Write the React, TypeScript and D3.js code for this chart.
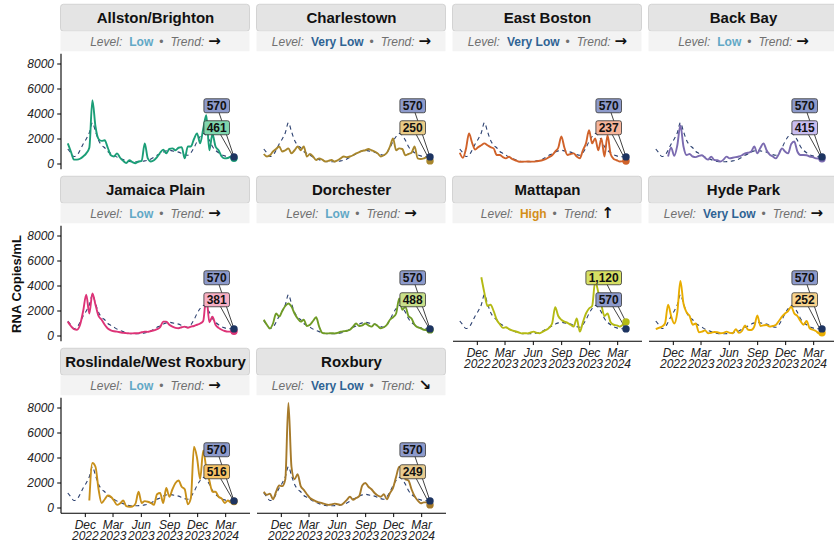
import React from "react";
import * as d3 from "d3";

// sampling grid: every 10 days from Oct 5 2022
const firstDate = new Date(2022, 9, 5);
const dates = d3.range(55).map((i) => d3.timeDay.offset(firstDate, i * 10));
const xDomain = [new Date(2022, 8, 13), new Date(2024, 4, 19)];
const tickDates = [
  new Date(2022, 11, 1),
  new Date(2023, 2, 1),
  new Date(2023, 5, 1),
  new Date(2023, 8, 1),
  new Date(2023, 11, 1),
  new Date(2024, 2, 1),
];
const yTicks = [0, 2000, 4000, 6000, 8000];

const neighborhoods = [
  "Allston/Brighton", "Charlestown", "East Boston", "Back Bay",
  "Jamaica Plain", "Dorchester", "Mattapan", "Hyde Park",
  "Roslindale/West Roxbury", "Roxbury",
];
const levels = ["Low", "Very Low", "Very Low", "Low", "Low", "Low", "High", "Very Low", "Low", "Very Low"];
const trends = ["→", "→", "→", "→", "→", "→", "↑", "→", "→", "↘"];
const lineColors = ["#1B9E77", "#A8862C", "#D0622A", "#7B6BB0", "#DD3377", "#6F9B26", "#B4BA14", "#E8AC00", "#C8901A", "#A67A2A"];
const labelFills = ["#7FD6AE", "#E9CB86", "#F6B49A", "#C9BDF0", "#F8AFC4", "#C9E08A", "#D6DF63", "#F8D38C", "#F7C467", "#E8CB8F"];
const levelColors: Record<string, string> = { "Very Low": "#2F6394", Low: "#62A8C6", High: "#D48E1A" };

const boston = [1200, 900, 600, 700, 1100, 1600, 2000, 2500, 3300, 2600, 1900, 1500, 1300, 1000, 850, 700, 550, 450, 350, 250, 200, 180, 180, 190, 200, 250, 300, 400, 550, 700, 800, 950, 1050, 1100, 1050, 1000, 950, 850, 750, 700, 900, 1300, 1800, 2200, 2450, 2300, 1900, 1400, 1100, 900, 750, 650, 600, 580, 570];

const allston = [1650, 1000, 350, 350, 420, 600, 850, 1300, 5100, 3000, 2000, 1850, 1900, 1300, 700, 600, 850, 500, 250, 80, 300, 150, 60, 200, 250, 1650, 450, 200, 300, 550, 900, 1150, 850, 1200, 1250, 1100, 1300, 1350, 450, 1400, 1400, 2000, 2450, 1650, 2800, 3900, 1100, 2400, 1400, 1100, 600, 450, 480, 580, 461];
const charlestown = [800, 600, 700, 1000, 1200, 1400, 1000, 1100, 1250, 850, 1100, 1400, 1100, 1400, 600, 800, 600, 320, 450, 350, 200, 250, 320, 200, 300, 450, 600, 550, 600, 700, 850, 950, 1050, 1100, 1200, 1100, 1000, 850, 600, 700, 900, 1400, 2050, 1100, 1250, 1200, 700, 800, 900, 1400, 450, 400, 450, 550, 250];
const eastBoston = [900, 500, 1200, 2450, 1700, 1150, 1350, 1500, 1650, 1500, 1350, 1250, 720, 720, 550, 450, 580, 400, 300, 200, 180, 190, 200, 190, 190, 220, 260, 320, 400, 550, 700, 1000, 1300, 2200, 1300, 720, 800, 850, 590, 450, 1100, 1650, 2700, 1650, 2050, 1100, 2050, 600, 2300, 800, 400, 300, 200, 220, 237];
const backBay = [null, null, null, null, 600, 1300, 650, 1500, 3100, 1400, 720, 800, 600, 550, 650, 700, 500, 350, 590, 320, 300, 200, 350, 590, 450, 500, 550, 600, 700, 850, 900, 1000, 1400, 850, 1300, 1650, 1100, 750, 600, 450, 800, 1250, 1000, 850, 1600, 1800, 1000, 720, 720, 700, 600, 550, 450, 430, 415];
const jamaicaPlain = [1150, 800, 550, 500, 900, 2000, 3300, 1800, 3400, 2500, 1600, 1300, 900, 600, 450, 380, 350, 300, 250, 230, 210, 210, 220, 230, 300, 350, 330, 400, 450, 550, 700, 1150, 1150, 900, 750, 650, 620, 700, 750, 650, 750, 800, 900, 1000, 1200, 3200, 1100, 1550, 900, 650, 500, 400, 350, 350, 381];
const dorchester = [1300, 900, 600, 1000, 1800, 1550, 2000, 2400, 2600, 2350, 1800, 1400, 1150, 1300, 800, 900, 1200, 1500, 750, 250, 210, 210, 220, 210, 250, 350, 380, 420, 500, 750, 1000, 800, 850, 1000, 850, 750, 950, 800, 620, 700, 900, 1300, 1500, 1800, 3000, 2100, 2350, 1600, 1400, 900, 700, 620, 500, 480, 488];
const mattapan = [null, null, null, null, null, null, null, 4700, 3450, 2400, 2500, 2000, 1300, 950, 650, 700, 550, 450, 380, 300, 210, 220, 210, 280, 350, 250, 220, 350, 480, 650, 1000, 2300, 1600, 1300, 1150, 1050, 900, 750, 1400, 350, 1100, 1800, 2200, 2400, 4400, 3500, 2500, 1600, 1800, 1100, 900, 850, 750, 900, 1120];
const hydePark = [550, 650, 750, 1000, 2500, 1600, 1000, 1900, 4400, 2600, 1900, 1600, 900, 1000, 300, 350, 450, 220, 250, 320, 300, 220, 250, 350, 250, 220, 550, 250, 400, 850, 500, 480, 750, 1650, 800, 850, 880, 750, 800, 880, 1200, 1550, 1800, 2000, 2350, 1800, 1600, 1200, 900, 1200, 620, 500, 400, 220, 252];
const roslindale = [null, null, null, null, null, null, null, 600, 3600, 3300, 1500, 400, 700, 1000, 900, 600, 250, 370, 600, 150, 100, 120, 350, 1300, 400, 550, 500, 400, 250, 1100, 1200, 400, 1600, 900, 1500, 2000, 2200, 1700, 1500, 300, 800, 4900, 4000, 2300, 4600, 3200, 2200, 1300, 1300, 900, 750, 400, 600, 450, 516];
const roxbury = [1300, 1050, 1150, 700, 1300, 1800, 1750, 2300, 8400, 3300, 2300, 2700, 1750, 1450, 1100, 800, 650, 520, 450, 380, 300, 250, 280, 350, 300, 250, 400, 650, 900, 650, 800, 950, 1800, 2000, 1700, 1500, 1200, 1000, 900, 1100, 700, 1200, 1600, 2500, 3300, 3100, 2300, 2200, 1500, 950, 600, 380, 450, 450, 249];

const series: (number | null)[][] = [allston, charlestown, eastBoston, backBay, jamaicaPlain, dorchester, mattapan, hydePark, roslindale, roxbury];

const FONT = "'Liberation Sans', Arial, Helvetica, sans-serif";
const PW = 189;
const PH = 115.5;
const colLeft = [61, 257, 453, 649];
const rowTop = [53.75, 225.75, 397.75];

const fmt = d3.format(",");
const labelWidth = (s: string) => {
  let w = 0;
  for (const ch of s) w += ch === "," ? 3.3 : 6.7;
  return w + 5.5;
};

const App = () => {
  const yMax = d3.max(series.flat().concat(boston), (d) => d as number) as number;
  const x = d3.scaleTime().domain(xDomain).range([0, PW]);
  const y = d3.scaleLinear().domain([-0.05 * yMax, 1.05 * yMax]).range([PH, 0]);
  const line = d3
    .line<number | null>()
    .defined((d) => d != null)
    .x((d, i) => x(dates[i]))
    .y((d) => y(d as number))
    .curve(d3.curveMonotoneX);

  const last = dates.length - 1;
  const endX = x(dates[last]);

  return (
    <svg width={834} height={542} style={{ position: "absolute", left: 0, top: 0, background: "#fff" }} fontFamily={FONT}>
      <text transform="translate(20.5,284) rotate(-90)" textAnchor="middle" fontSize={13} fontWeight="bold" fill="#111">
        RNA Copies/mL
      </text>
      {neighborhoods.map((name, k) => {
        const col = k % 4;
        const row = Math.floor(k / 4);
        const vals = series[k];
        const nbVal = vals[last] as number;
        const bosVal = boston[last];
        const nbOnTop = nbVal > bosVal;
        const labels = [
          { text: fmt(bosVal), fill: "#8D9ACB", cy: nbOnTop ? 74 : 52, py: y(bosVal) },
          { text: fmt(nbVal), fill: labelFills[k], cy: nbOnTop ? 52 : 74, py: y(nbVal) },
        ];
        const showX = row === 2 || (row === 1 && col >= 2);
        const showY = col === 0;
        return (
          <g key={name} transform={`translate(${colLeft[col]},${rowTop[row]})`}>
            {/* strip */}
            <rect x={-0.5} y={-49.5} width={PW} height={27} rx={3} fill="#E4E4E4" stroke="#CBCBCB" strokeWidth={0.8} />
            <text x={PW / 2} y={-31.2} textAnchor="middle" fontSize={15} fontWeight="bold" fill="#111">
              {name}
            </text>
            <rect x={-0.5} y={-22.5} width={PW} height={20} fill="#F3F3F3" />
            <text x={PW / 2} y={-7.8} textAnchor="middle" fontSize={12} fill="#707070">
              <tspan fontStyle="italic">Level:</tspan>
              <tspan dx={7} fontWeight="bold" fill={levelColors[levels[k]]}>{levels[k]}</tspan>
              <tspan dx={6}>•</tspan>
              <tspan dx={7} fontStyle="italic">Trend:</tspan>
              <tspan dx={4} fontFamily="'DejaVu Sans', sans-serif" fontWeight="bold" fontSize={15} fill="#111">{trends[k]}</tspan>
            </text>

            {/* axes */}
            {showY && (
              <g>
                <line x1={0} x2={0} y1={0} y2={PH} stroke="#000" strokeWidth={1.1} />
                {yTicks.map((t) => (
                  <g key={t} transform={`translate(0,${y(t)})`}>
                    <line x1={-3.8} x2={0} stroke="#000" strokeWidth={1} />
                    <text x={-7} dy="0.35em" textAnchor="end" fontSize={12} fontStyle="italic" fill="#222">
                      {t}
                    </text>
                  </g>
                ))}
              </g>
            )}
            {showX && (
              <g>
                <line x1={0} x2={PW} y1={PH} y2={PH} stroke="#000" strokeWidth={1.1} />
                {tickDates.map((t) => (
                  <g key={t.getTime()} transform={`translate(${x(t)},${PH})`}>
                    <line y1={0} y2={3.8} stroke="#000" strokeWidth={1} />
                    <text y={15.6} textAnchor="middle" fontSize={12} fontStyle="italic" fill="#222">
                      {d3.timeFormat("%b")(t)}
                    </text>
                    <text y={26.8} textAnchor="middle" fontSize={12} fontStyle="italic" fill="#222">
                      {d3.timeFormat("%Y")(t)}
                    </text>
                  </g>
                ))}
              </g>
            )}

            {/* lines */}
            <path d={line(boston) ?? ""} fill="none" stroke="#2C4170" strokeWidth={1.1} strokeDasharray="4,3.5" />
            <path d={line(vals) ?? ""} fill="none" stroke={lineColors[k]} strokeWidth={1.9} />

            {/* connectors */}
            {labels.map((l, j) => (
              <line key={j} x1={168.5 - labelWidth(l.text) / 2} y1={l.cy} x2={endX} y2={l.py} stroke="#111" strokeWidth={0.8} />
            ))}
            <circle cx={endX} cy={y(nbVal)} r={3.7} fill={lineColors[k]} />
            <circle cx={endX} cy={y(bosVal)} r={3.7} fill="#1D3461" />
            {labels.map((l, j) => {
              const w = labelWidth(l.text);
              return (
                <g key={`l${j}`}>
                  <rect x={168.5 - w} y={l.cy - 7} width={w} height={14} rx={2} fill={l.fill} stroke="#333" strokeWidth={0.8} />
                  <text x={168.5 - w / 2} y={l.cy + 4.3} textAnchor="middle" fontSize={12} fontWeight="bold" fill="#111">
                    {l.text}
                  </text>
                </g>
              );
            })}
          </g>
        );
      })}
    </svg>
  );
};

export default App;
